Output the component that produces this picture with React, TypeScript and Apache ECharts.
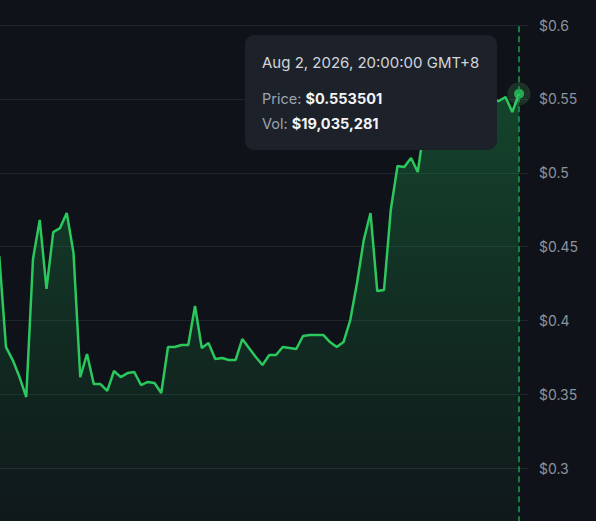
import React, { useEffect, useRef } from "react";
import * as echarts from "echarts";

// Price series (USD), one point per period, last point = hovered point
const prices: number[] = [
  0.4437, 0.3821, 0.3733, 0.3618, 0.3483, 0.4417, 0.4681, 0.4214, 0.4599, 0.4626,
  0.4728, 0.4457, 0.3618, 0.3774, 0.3571, 0.3571, 0.3524, 0.3659, 0.3618, 0.3645,
  0.3652, 0.3564, 0.3585, 0.3578, 0.351, 0.3821, 0.3821, 0.3835, 0.3835, 0.4099,
  0.3815, 0.3848, 0.374, 0.3747, 0.3733, 0.3733, 0.3875, 0.3815, 0.3754, 0.37,
  0.3767, 0.3767, 0.3821, 0.3815, 0.3808, 0.3896, 0.3903, 0.3903, 0.3903, 0.3855,
  0.3821, 0.3855, 0.4004, 0.4254, 0.4545, 0.4728, 0.42, 0.4207, 0.4748, 0.5046,
  0.5039, 0.51, 0.5005, 0.5323, 0.529, 0.5371, 0.5344, 0.5425, 0.5391, 0.5465,
  0.5438, 0.5506, 0.5472, 0.5493, 0.5486, 0.5513, 0.5411, 0.553501,
];

const yMin = 0.25;
const yMax = 0.6;
const yStep = 0.05;

const hoverDate = "Aug 2, 2026, 20:00:00 GMT+8";
const hoverVolume = 19035281;

const OFFSET_X = 20;
const CHART_W = 636;
const CHART_H = 560;

export default function App() {
  const ref = useRef<HTMLDivElement>(null);

  useEffect(() => {
    if (!ref.current) return;
    const chart = echarts.init(ref.current, null, { renderer: "svg" });
    const lastIdx = prices.length - 1;
    const lastPrice = prices[lastIdx];
    const green = "#2bc85e";
    const richStyle = {
      l: { fill: "#9ca3af", fontSize: 14.5, fontFamily: "Inter" },
      v: { fill: "#f3f4f6", fontSize: 14.5, fontFamily: "Inter", fontWeight: "bold" },
    };

    chart.setOption({
      animation: false,
      backgroundColor: "#0f1218",
      grid: { left: 19.25, right: 88, top: 25, bottom: 17.7 },
      xAxis: {
        type: "value",
        min: 0,
        max: 78.33,
        show: false,
      },
      yAxis: {
        type: "value",
        position: "right",
        min: yMin,
        max: yMax,
        interval: yStep,
        axisLine: { show: false },
        axisTick: { show: false },
        axisLabel: {
          margin: 11,
          color: "#8b949e",
          fontSize: 14,
          fontFamily: "Inter",
          showMinLabel: false,
          formatter: (v: number) => "$" + String(Math.round(v * 100) / 100),
        },
        splitLine: { lineStyle: { color: "#1f242b", width: 1 } },
      },
      series: [
        {
          type: "line",
          data: prices.map((p, i) => [i, p]),
          showSymbol: false,
          lineStyle: { color: green, width: 2.5 },
          areaStyle: {
            color: new echarts.graphic.LinearGradient(0, 0, 0, 1, [
              { offset: 0, color: "rgba(34,197,94,0.4)" },
              { offset: 1, color: "rgba(34,197,94,0.03)" },
            ]),
          },
          markLine: {
            silent: true,
            symbol: "none",
            label: { show: false },
            lineStyle: { color: "#1f9d50", type: [6, 4], width: 1.5 },
            data: [{ xAxis: lastIdx }],
          },
          z: 2,
        },
        {
          type: "scatter",
          data: [[lastIdx, lastPrice]],
          symbolSize: 23,
          itemStyle: { color: "rgba(90,200,120,0.22)" },
          z: 3,
        },
        {
          type: "scatter",
          data: [[lastIdx, lastPrice]],
          symbolSize: 10,
          itemStyle: { color: green },
          z: 4,
        },
      ],
      graphic: [
        {
          type: "rect",
          zlevel: 1,
          z: 100,
          shape: { x: 245 + OFFSET_X, y: 35, width: 252, height: 115, r: 9 },
          style: { fill: "#1d222a" },
        },
        {
          type: "text",
          zlevel: 1,
          z: 101,
          x: 262 + OFFSET_X,
          y: 62,
          style: {
            text: hoverDate,
            fill: "#d1d5db",
            font: "15px Inter",
            verticalAlign: "middle",
          },
        },
        {
          type: "text",
          zlevel: 1,
          z: 101,
          x: 262 + OFFSET_X,
          y: 98,
          style: {
            text: "{l|Price: }{v|$" + lastPrice.toFixed(6) + "}",
            verticalAlign: "middle",
            rich: richStyle,
          },
        },
        {
          type: "text",
          zlevel: 1,
          z: 101,
          x: 262 + OFFSET_X,
          y: 123,
          style: {
            text: "{l|Vol: }{v|$" + hoverVolume.toLocaleString("en-US") + "}",
            verticalAlign: "middle",
            rich: richStyle,
          },
        },
      ],
    });
    return () => chart.dispose();
  }, []);

  return (
    <div
      style={{
        position: "fixed",
        left: 0,
        top: 0,
        width: 596,
        height: 521,
        overflow: "hidden",
        background: "#0f1218",
      }}
    >
      <div
        ref={ref}
        style={{ position: "absolute", left: -OFFSET_X, top: 0, width: CHART_W, height: CHART_H }}
      />
    </div>
  );
}
